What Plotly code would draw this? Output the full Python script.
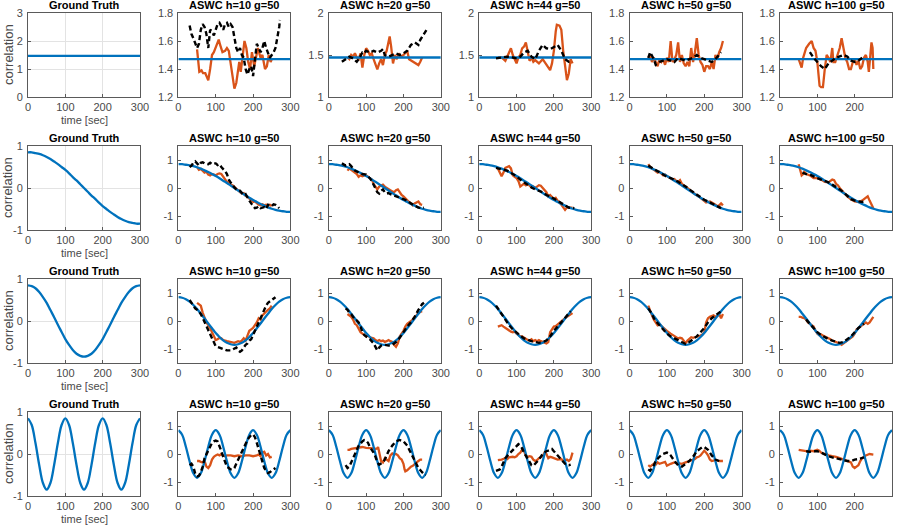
import plotly.graph_objects as go

# ---------------- data ----------------
panel_titles = ["Ground Truth", "ASWC h=10 g=50", "ASWC h=20 g=50",
                "ASWC h=44 g=50", "ASWC h=50 g=50", "ASWC h=100 g=50"]
x_ticks = [0, 100, 200, 300]

gt_t = [0, 10, 20, 30, 40, 50, 60, 70, 80, 90, 100, 110, 120, 130, 140, 150,
        160, 170, 180, 190, 200, 210, 220, 230, 240, 250, 260, 270, 280, 290, 300]
gt_row1_t = [0, 300]
gt_row1 = [1.47, 1.47]
gt_row2 = [.85, .85, .83, .81, .78, .74, .69, .63, .57, .50, .43, .35, .26, .18, .09, 0,
           -.09, -.18, -.26, -.35, -.43, -.50, -.57, -.63, -.69, -.74, -.78, -.81, -.83, -.85, -.85]
gt_row3 = [.85, .83, .78, .69, .57, .43, .26, .09, -.09, -.26, -.43, -.57, -.69, -.78, -.83, -.85,
           -.83, -.78, -.69, -.57, -.43, -.26, -.09, .09, .26, .43, .57, .69, .78, .83, .85]
gt_row4 = [.85, .69, .26, -.26, -.69, -.85, -.69, -.26, .26, .69,
           .85, .69, .26, -.26, -.69, -.85, -.69, -.26, .26, .69,
           .85, .69, .26, -.26, -.69, -.85, -.69, -.26, .26, .69, .85]

# ---- row 1 (constant) ----
orange_r1_h10 = [(50,1.54),(53,1.45),(56,1.38),(62,1.39),(66,1.37),(72,1.37),(76,1.35),(80,1.32),(85,1.40),(90,1.50),(95,1.52),(100,1.56),(105,1.60),(108,1.61),(112,1.57),(118,1.52),(125,1.53),(130,1.55),(135,1.53),(140,1.45),(145,1.36),(150,1.26),(155,1.30),(160,1.40),(163,1.45),(167,1.38),(172,1.50),(177,1.60),(182,1.55),(187,1.45),(192,1.40),(197,1.52),(203,1.42),(208,1.50),(213,1.55),(220,1.48),(225,1.50),(232,1.40),(237,1.42),(242,1.50),(247,1.45),(250,1.47)]
black_r1_h10 = [(30,1.71),(35,1.65),(40,1.62),(45,1.58),(50,1.55),(55,1.58),(60,1.68),(65,1.72),(70,1.70),(75,1.65),(80,1.55),(85,1.68),(90,1.67),(95,1.64),(100,1.68),(105,1.72),(110,1.73),(115,1.70),(120,1.68),(125,1.72),(130,1.73),(135,1.70),(140,1.72),(145,1.70),(150,1.62),(155,1.55),(160,1.52),(165,1.55),(170,1.50),(175,1.48),(180,1.40),(185,1.36),(190,1.40),(195,1.42),(200,1.35),(205,1.45),(210,1.58),(215,1.55),(220,1.52),(225,1.55),(230,1.60),(235,1.55),(240,1.52),(245,1.48),(250,1.50),(255,1.52),(260,1.55),(265,1.62),(270,1.70),(272,1.75)]
orange_r1_h20 = [(50,1.47),(55,1.45),(60,1.50),(65,1.48),(70,1.52),(75,1.47),(80,1.45),(85,1.52),(90,1.35),(95,1.50),(100,1.58),(105,1.55),(110,1.50),(115,1.52),(120,1.45),(125,1.40),(130,1.33),(135,1.40),(140,1.45),(145,1.38),(150,1.50),(155,1.55),(160,1.65),(163,1.72),(167,1.60),(172,1.40),(177,1.50),(182,1.45),(187,1.52),(192,1.48),(200,1.50),(205,1.52),(210,1.55),(215,1.45),(225,1.42),(235,1.40),(240,1.38),(245,1.42),(250,1.47)]
black_r1_h20 = [(35,1.42),(45,1.45),(55,1.48),(65,1.46),(70,1.44),(75,1.42),(80,1.45),(85,1.50),(90,1.53),(95,1.52),(100,1.55),(110,1.53),(120,1.55),(130,1.53),(140,1.55),(145,1.57),(150,1.50),(160,1.48),(170,1.50),(180,1.52),(190,1.50),(200,1.52),(210,1.55),(220,1.62),(230,1.65),(240,1.62),(245,1.68),(255,1.75),(262,1.80)]
orange_r1_h44 = [(50,1.47),(60,1.47),(70,1.43),(80,1.52),(85,1.58),(90,1.50),(95,1.45),(100,1.40),(105,1.47),(110,1.50),(115,1.58),(120,1.60),(125,1.65),(130,1.55),(135,1.43),(140,1.47),(145,1.42),(150,1.44),(160,1.40),(170,1.45),(180,1.38),(190,1.32),(195,1.40),(200,1.55),(205,1.78),(208,1.86),(215,1.85),(220,1.80),(225,1.55),(230,1.35),(235,1.20),(240,1.28),(245,1.45),(250,1.40)]
black_r1_h44 = [(45,1.46),(60,1.47),(75,1.48),(90,1.47),(100,1.46),(110,1.48),(120,1.53),(130,1.55),(140,1.48),(150,1.45),(160,1.55),(170,1.62),(180,1.58),(190,1.57),(200,1.60),(210,1.62),(220,1.55),(230,1.45),(240,1.42),(250,1.42)]
orange_r1_h50 = [(50,1.48),(55,1.50),(60,1.45),(65,1.48),(70,1.45),(75,1.42),(80,1.47),(85,1.45),(90,1.47),(95,1.43),(100,1.48),(105,1.45),(110,1.60),(115,1.45),(120,1.47),(125,1.50),(130,1.59),(135,1.45),(140,1.50),(145,1.44),(150,1.42),(155,1.45),(160,1.42),(165,1.55),(170,1.45),(175,1.52),(180,1.62),(185,1.50),(190,1.45),(195,1.43),(200,1.38),(205,1.42),(210,1.42),(215,1.40),(220,1.45),(225,1.40),(230,1.50),(235,1.47),(240,1.52),(245,1.55),(250,1.60)]
black_r1_h50 = [(50,1.48),(55,1.52),(65,1.47),(70,1.43),(80,1.45),(90,1.46),(100,1.47),(110,1.46),(120,1.45),(130,1.48),(140,1.47),(150,1.46),(160,1.47),(170,1.48),(180,1.50),(190,1.48),(200,1.47),(210,1.46),(220,1.45),(230,1.47),(240,1.50),(245,1.52)]
orange_r1_h100 = [(50,1.47),(55,1.43),(58,1.41),(62,1.48),(70,1.55),(78,1.58),(85,1.60),(90,1.55),(95,1.53),(100,1.45),(103,1.35),(106,1.28),(110,1.27),(115,1.27),(120,1.40),(125,1.50),(130,1.48),(135,1.45),(140,1.55),(143,1.45),(148,1.45),(155,1.50),(160,1.55),(165,1.62),(170,1.55),(175,1.48),(180,1.45),(185,1.40),(190,1.40),(195,1.45),(200,1.47),(205,1.43),(210,1.46),(215,1.40),(220,1.42),(225,1.48),(230,1.50),(235,1.45),(238,1.38),(242,1.48),(245,1.59),(248,1.55),(250,1.40)]
black_r1_h100 = [(80,1.52),(90,1.48),(100,1.45),(110,1.42),(120,1.40),(130,1.44),(140,1.46),(150,1.48),(160,1.49),(170,1.50),(180,1.49),(190,1.46),(200,1.45),(210,1.46),(220,1.48)]

# ---- row 2 (half cosine) ----
orange_r2_h10 = [(50,0.75),(55,0.65),(60,0.68),(65,0.60),(70,0.55),(75,0.58),(80,0.48),(85,0.45),(90,0.50),(95,0.48),(100,0.45),(105,0.50),(110,0.52),(115,0.50),(120,0.40),(125,0.30),(130,0.22),(135,0.20),(140,0.12),(145,0.10),(150,0.05),(155,-0.02),(160,-0.08),(165,-0.15),(170,-0.20),(175,-0.18),(180,-0.28),(185,-0.32),(190,-0.38),(195,-0.45),(200,-0.50),(205,-0.48),(210,-0.55),(215,-0.60),(220,-0.62),(225,-0.58),(230,-0.62),(235,-0.60),(240,-0.62),(245,-0.60),(250,-0.65)]
black_r2_h10 = [(30,0.75),(35,0.80),(40,0.90),(45,0.95),(50,0.88),(55,0.80),(60,0.90),(65,0.92),(70,0.88),(80,0.85),(85,0.90),(90,0.85),(95,0.88),(100,0.88),(105,0.82),(110,0.85),(115,0.75),(120,0.68),(125,0.60),(130,0.50),(135,0.30),(140,0.20),(145,0.10),(150,0.02),(155,-0.05),(160,-0.10),(165,-0.10),(170,-0.18),(175,-0.25),(180,-0.22),(185,-0.35),(190,-0.45),(195,-0.55),(200,-0.65),(205,-0.72),(210,-0.70),(215,-0.65),(220,-0.72),(225,-0.70),(230,-0.68),(235,-0.75),(240,-0.60),(245,-0.62),(250,-0.65),(255,-0.58),(260,-0.60),(265,-0.65),(270,-0.72)]
orange_r2_h20 = [(50,0.62),(55,0.70),(60,0.65),(65,0.60),(70,0.55),(75,0.50),(80,0.40),(85,0.45),(90,0.42),(95,0.45),(100,0.45),(105,0.40),(110,0.38),(115,0.30),(120,0.15),(125,0.05),(130,-0.05),(135,0.05),(140,0.10),(145,0.12),(150,0.05),(155,0.00),(160,-0.02),(165,-0.10),(170,-0.12),(175,-0.15),(180,-0.08),(185,-0.05),(190,-0.15),(195,-0.25),(200,-0.30),(205,-0.38),(210,-0.45),(215,-0.50),(220,-0.55),(225,-0.62),(230,-0.55),(235,-0.52),(240,-0.48),(245,-0.58),(250,-0.60)]
black_r2_h20 = [(35,0.88),(40,0.85),(45,0.80),(50,0.82),(55,0.85),(60,0.78),(65,0.70),(70,0.62),(80,0.55),(90,0.50),(100,0.48),(105,0.42),(110,0.35),(115,0.25),(120,0.10),(125,-0.05),(130,-0.15),(135,-0.20),(140,-0.10),(145,-0.05),(150,-0.15),(155,-0.20),(160,-0.18),(165,-0.22),(170,-0.25),(180,-0.30),(190,-0.35),(200,-0.40),(210,-0.45),(220,-0.55),(230,-0.62),(240,-0.70),(250,-0.72),(255,-0.70)]
orange_r2_h44 = [(50,0.70),(55,0.55),(60,0.42),(65,0.55),(70,0.72),(75,0.75),(80,0.78),(85,0.70),(90,0.45),(95,0.40),(100,0.35),(105,0.25),(110,0.05),(115,0.10),(120,0.15),(125,0.10),(130,0.15),(135,0.08),(140,0.02),(145,0.05),(150,0.00),(155,0.05),(160,0.10),(165,0.08),(170,0.00),(175,-0.10),(180,-0.15),(185,-0.30),(190,-0.25),(195,-0.32),(200,-0.40),(205,-0.35),(210,-0.45),(215,-0.50),(220,-0.60),(225,-0.70),(230,-0.78),(235,-0.70),(240,-0.70),(245,-0.72),(250,-0.70)]
black_r2_h44 = [(45,0.72),(60,0.68),(75,0.62),(90,0.50),(100,0.42),(110,0.30),(120,0.20),(130,0.10),(140,0.02),(150,-0.05),(160,-0.10),(170,-0.15),(180,-0.25),(190,-0.30),(200,-0.38),(210,-0.45),(220,-0.55),(230,-0.62),(240,-0.70),(250,-0.72),(255,-0.72)]
orange_r2_h50 = [(50,0.85),(55,0.75),(60,0.70),(65,0.65),(70,0.60),(75,0.55),(80,0.58),(85,0.50),(90,0.45),(95,0.48),(100,0.42),(105,0.38),(110,0.35),(115,0.30),(120,0.32),(125,0.25),(130,0.22),(135,0.28),(140,0.15),(145,0.10),(150,0.05),(155,0.02),(160,-0.05),(165,-0.12),(170,-0.15),(175,-0.22),(180,-0.25),(185,-0.30),(190,-0.35),(195,-0.40),(200,-0.48),(205,-0.52),(210,-0.50),(215,-0.48),(220,-0.52),(225,-0.55),(230,-0.60),(235,-0.65),(240,-0.62),(245,-0.55),(250,-0.62)]
black_r2_h50 = [(50,0.80),(60,0.72),(70,0.62),(80,0.55),(90,0.48),(100,0.40),(110,0.35),(120,0.30),(130,0.22),(140,0.15),(150,0.05),(160,-0.05),(170,-0.15),(180,-0.25),(190,-0.35),(200,-0.42),(210,-0.48),(220,-0.55),(230,-0.62),(240,-0.68),(245,-0.72)]
orange_r2_h100 = [(50,0.85),(55,0.65),(58,0.45),(62,0.50),(65,0.58),(70,0.50),(80,0.45),(90,0.35),(100,0.35),(110,0.30),(120,0.22),(130,0.20),(135,0.25),(140,0.30),(145,0.28),(150,0.15),(155,0.10),(160,0.00),(170,-0.15),(180,-0.30),(190,-0.40),(200,-0.48),(210,-0.50),(215,-0.48),(220,-0.45),(225,-0.40),(230,-0.35),(235,-0.30),(240,-0.45),(245,-0.60),(250,-0.72)]
black_r2_h100 = [(60,0.55),(70,0.50),(80,0.48),(90,0.40),(100,0.35),(110,0.30),(120,0.25),(130,0.20),(140,0.12),(150,0.05),(160,-0.05),(170,-0.15),(180,-0.28),(190,-0.40),(200,-0.45),(210,-0.48),(220,-0.50),(225,-0.48)]

# ---- row 3 (full cosine) ----
orange_r3_h10 = [(50,0.65),(55,0.60),(60,0.55),(65,0.30),(70,0.10),(75,-0.05),(80,-0.15),(85,-0.25),(90,-0.40),(95,-0.55),(100,-0.68),(105,-0.65),(110,-0.60),(115,-0.62),(120,-0.68),(130,-0.72),(140,-0.75),(150,-0.78),(160,-0.72),(165,-0.75),(170,-0.70),(175,-0.62),(180,-0.70),(185,-0.55),(190,-0.35),(195,-0.30),(200,-0.25),(205,-0.15),(210,-0.05),(215,0.10),(220,0.05),(225,0.20),(230,0.28),(235,0.32),(240,0.40),(245,0.45),(250,0.55)]
black_r3_h10 = [(30,0.75),(35,0.65),(40,0.55),(45,0.45),(50,0.40),(55,0.35),(60,0.25),(65,0.10),(70,-0.05),(75,-0.20),(80,-0.35),(85,-0.50),(90,-0.65),(95,-0.80),(100,-0.90),(110,-0.95),(120,-1.00),(130,-1.05),(140,-1.05),(150,-1.00),(155,-0.95),(160,-1.05),(165,-1.10),(170,-1.05),(175,-0.95),(180,-0.85),(185,-0.80),(190,-0.70),(195,-0.65),(200,-0.50),(205,-0.35),(210,-0.15),(215,0.00),(220,0.15),(225,0.30),(230,0.45),(235,0.55),(240,0.65),(245,0.70),(250,0.72),(255,0.80),(260,0.85)]
orange_r3_h20 = [(50,0.25),(55,0.20),(60,0.15),(65,0.05),(70,-0.10),(75,-0.15),(80,-0.30),(85,-0.40),(90,-0.45),(95,-0.50),(100,-0.55),(105,-0.52),(110,-0.58),(115,-0.60),(120,-0.62),(125,-0.68),(130,-0.72),(135,-0.68),(140,-0.72),(145,-0.70),(150,-0.75),(155,-0.72),(160,-0.68),(165,-0.72),(170,-0.75),(175,-0.85),(180,-0.92),(185,-0.80),(190,-0.55),(195,-0.45),(200,-0.35),(205,-0.20),(210,-0.10),(215,-0.05),(220,0.00),(225,0.05),(230,0.15),(235,0.20),(240,0.30),(245,0.32),(250,0.35)]
black_r3_h20 = [(45,0.45),(50,0.40),(55,0.30),(60,0.25),(65,0.15),(70,0.05),(75,0.02),(80,-0.05),(85,-0.20),(90,-0.40),(95,-0.50),(100,-0.55),(110,-0.65),(120,-0.80),(125,-0.95),(130,-1.05),(135,-0.95),(140,-0.88),(150,-0.85),(160,-0.88),(170,-0.85),(175,-0.80),(180,-0.75),(190,-0.60),(200,-0.40),(210,-0.20),(220,-0.05),(230,0.15),(240,0.40),(250,0.60),(255,0.65)]
orange_r3_h44 = [(50,-0.20),(55,-0.18),(60,-0.15),(65,-0.20),(70,-0.25),(75,-0.30),(80,-0.32),(85,-0.38),(90,-0.40),(95,-0.38),(100,-0.45),(105,-0.50),(110,-0.55),(115,-0.55),(120,-0.60),(125,-0.62),(130,-0.68),(135,-0.70),(140,-0.65),(145,-0.72),(150,-0.68),(155,-0.72),(160,-0.68),(165,-0.72),(170,-0.75),(175,-0.78),(180,-0.80),(185,-0.75),(190,-0.40),(195,-0.30),(200,-0.20),(205,-0.18),(210,-0.12),(215,-0.05),(220,-0.02),(225,0.05),(230,0.10),(235,0.15),(240,0.20),(245,0.22),(250,0.28)]
black_r3_h44 = [(45,0.55),(50,0.45),(55,0.35),(60,0.25),(65,0.15),(70,0.05),(75,-0.05),(80,-0.15),(90,-0.30),(100,-0.42),(110,-0.52),(120,-0.62),(130,-0.68),(140,-0.72),(150,-0.75),(160,-0.78),(170,-0.75),(180,-0.70),(190,-0.55),(200,-0.35),(210,-0.20),(220,-0.05),(230,0.10),(240,0.25),(245,0.35)]
orange_r3_h50 = [(50,0.55),(55,0.35),(60,0.20),(65,0.05),(70,-0.05),(75,-0.15),(80,-0.12),(85,-0.18),(90,-0.25),(95,-0.30),(100,-0.35),(110,-0.45),(120,-0.55),(130,-0.62),(135,-0.60),(140,-0.62),(145,-0.70),(150,-0.80),(155,-0.70),(160,-0.62),(165,-0.58),(170,-0.60),(175,-0.58),(180,-0.55),(185,-0.55),(190,-0.52),(195,-0.48),(200,-0.40),(205,-0.05),(210,0.10),(215,0.15),(220,0.18),(225,0.20),(230,0.15),(235,0.18),(240,0.25),(245,0.10),(250,0.25)]
black_r3_h50 = [(50,0.45),(55,0.35),(60,0.25),(65,0.10),(70,0.00),(80,-0.15),(90,-0.30),(100,-0.45),(110,-0.55),(120,-0.62),(130,-0.70),(140,-0.75),(150,-0.82),(160,-0.75),(170,-0.65),(180,-0.55),(190,-0.40),(200,-0.25),(210,-0.05),(220,0.10),(230,0.20),(240,0.30),(245,0.35)]
orange_r3_h100 = [(50,0.15),(55,0.15),(60,0.12),(65,0.10),(70,0.05),(75,-0.05),(80,-0.10),(85,-0.15),(90,-0.20),(95,-0.35),(100,-0.45),(105,-0.50),(110,-0.48),(115,-0.52),(120,-0.55),(125,-0.58),(130,-0.60),(135,-0.65),(140,-0.70),(145,-0.72),(150,-0.75),(155,-0.78),(160,-0.80),(165,-0.85),(170,-0.80),(175,-0.75),(180,-0.70),(185,-0.68),(190,-0.62),(195,-0.55),(200,-0.45),(205,-0.30),(210,-0.25),(215,-0.20),(220,-0.15),(225,-0.10),(230,-0.05),(235,-0.10),(240,-0.05),(245,0.05),(250,0.15)]
black_r3_h100 = [(70,0.05),(80,-0.10),(90,-0.25),(100,-0.40),(110,-0.50),(120,-0.58),(130,-0.65),(140,-0.70),(150,-0.75),(160,-0.78),(170,-0.75),(180,-0.65),(190,-0.55),(200,-0.40),(210,-0.25),(220,-0.15),(225,-0.10)]

# ---- row 4 (fast cosine) ----
orange_r4_h10 = [(50,-0.25),(55,-0.25),(60,-0.28),(65,-0.30),(70,-0.25),(75,-0.45),(80,-0.50),(85,-0.40),(90,-0.20),(95,-0.10),(100,-0.05),(105,-0.02),(110,-0.05),(115,0.00),(120,-0.05),(125,-0.08),(130,-0.05),(140,-0.05),(150,-0.08),(160,-0.05),(170,-0.08),(180,-0.05),(190,-0.05),(200,-0.08),(210,-0.05),(215,-0.02),(220,-0.08),(225,0.05),(230,0.08),(235,-0.05),(240,0.00),(245,-0.12),(250,-0.10)]
black_r4_h10 = [(30,-0.40),(35,-0.35),(40,-0.45),(45,-0.70),(50,-0.80),(55,-0.78),(60,-0.65),(65,-0.45),(70,-0.15),(75,0.00),(80,0.15),(85,0.30),(90,0.40),(95,0.45),(100,0.48),(105,0.45),(110,0.30),(115,0.10),(120,-0.10),(125,-0.30),(130,-0.45),(135,-0.50),(140,-0.55),(145,-0.55),(150,-0.50),(155,-0.35),(160,-0.20),(165,-0.05),(170,0.10),(175,0.25),(180,0.40),(185,0.50),(190,0.60),(195,0.68),(200,0.70),(205,0.60),(210,0.40),(215,0.15),(220,-0.10),(225,-0.30),(230,-0.50),(235,-0.60),(240,-0.68),(245,-0.65),(250,-0.60),(255,-0.55),(260,-0.50)]
orange_r4_h20 = [(50,0.15),(55,0.15),(60,0.18),(70,0.20),(80,0.22),(90,0.25),(100,0.22),(110,0.22),(120,0.20),(125,0.18),(130,0.20),(132,0.25),(135,0.10),(138,-0.15),(140,-0.25),(145,-0.30),(150,-0.15),(155,-0.20),(160,-0.25),(165,-0.05),(170,0.02),(175,-0.02),(180,0.00),(185,-0.05),(190,-0.15),(195,-0.20),(200,-0.35),(203,-0.55),(205,-0.62),(210,-0.58),(215,-0.50),(220,-0.45),(225,-0.42),(230,-0.35),(235,-0.30),(240,-0.25),(245,-0.20),(250,-0.20)]
black_r4_h20 = [(45,-0.40),(50,-0.50),(55,-0.45),(60,-0.30),(65,-0.10),(70,0.05),(75,0.15),(80,0.30),(90,0.45),(95,0.50),(100,0.48),(105,0.40),(110,0.25),(115,0.15),(120,0.05),(125,-0.10),(130,-0.30),(135,-0.38),(140,-0.35),(145,-0.30),(150,-0.20),(155,-0.05),(160,0.10),(170,0.30),(180,0.45),(190,0.50),(200,0.45),(210,0.30),(220,0.05),(230,-0.25),(240,-0.50),(250,-0.65),(255,-0.72),(260,-0.75)]
orange_r4_h44 = [(50,-0.22),(60,-0.20),(70,-0.15),(75,-0.18),(80,-0.12),(90,-0.10),(95,-0.12),(100,-0.08),(105,0.00),(110,0.05),(115,0.15),(118,0.20),(120,0.10),(125,-0.05),(130,-0.10),(135,-0.08),(140,-0.10),(145,-0.20),(150,-0.25),(155,-0.22),(160,-0.15),(165,-0.10),(170,-0.08),(175,0.05),(180,0.00),(185,-0.15),(190,-0.10),(195,-0.12),(200,-0.15),(210,-0.20),(220,-0.18),(225,-0.25),(230,-0.22),(235,-0.20),(240,-0.25),(245,-0.18),(250,0.05)]
black_r4_h44 = [(45,-0.60),(50,-0.58),(55,-0.55),(60,-0.45),(65,-0.30),(70,-0.15),(80,0.00),(90,0.15),(100,0.30),(105,0.35),(110,0.30),(115,0.20),(120,0.05),(130,-0.20),(140,-0.40),(145,-0.42),(150,-0.35),(160,-0.20),(170,0.00),(180,0.10),(190,0.15),(195,0.18),(200,0.10),(210,-0.05),(220,-0.20),(230,-0.35),(240,-0.40),(245,-0.38)]
orange_r4_h50 = [(50,-0.40),(55,-0.45),(60,-0.40),(65,-0.35),(70,-0.38),(75,-0.30),(80,-0.35),(85,-0.32),(90,-0.30),(95,-0.28),(100,-0.42),(105,-0.38),(110,-0.35),(120,-0.30),(130,-0.32),(140,-0.35),(150,-0.30),(160,-0.25),(170,-0.22),(175,-0.18),(180,-0.12),(185,-0.10),(190,-0.05),(195,0.05),(200,0.12),(205,0.05),(210,-0.05),(215,-0.20),(220,-0.25),(230,-0.22),(240,-0.25),(250,-0.25)]
black_r4_h50 = [(50,-0.55),(55,-0.60),(60,-0.50),(65,-0.40),(70,-0.25),(80,-0.10),(90,0.00),(100,0.05),(105,0.02),(110,-0.05),(120,-0.25),(130,-0.40),(140,-0.45),(145,-0.40),(150,-0.35),(160,-0.25),(170,-0.10),(180,0.10),(190,0.20),(195,0.25),(200,0.25),(210,0.15),(220,-0.05),(230,-0.20),(240,-0.25)]
orange_r4_h100 = [(50,0.15),(60,0.12),(70,0.10),(80,0.12),(90,0.10),(100,0.15),(105,0.12),(110,0.05),(115,0.02),(120,0.00),(125,0.00),(130,-0.05),(140,-0.08),(150,-0.10),(160,-0.15),(170,-0.20),(180,-0.25),(190,-0.30),(195,-0.45),(200,-0.50),(205,-0.45),(210,-0.40),(215,-0.25),(220,-0.15),(225,-0.10),(230,-0.05),(240,0.00),(250,-0.02)]
black_r4_h100 = [(70,0.10),(80,0.08),(90,0.10),(100,0.10),(110,0.05),(120,-0.02),(130,-0.08),(140,-0.12),(150,-0.15),(160,-0.18),(170,-0.22),(180,-0.25),(190,-0.25),(200,-0.20),(210,-0.18),(220,-0.15),(225,-0.12)]

# y axis ticks per panel
gt_y_ticks_row1 = [0, 1, 2, 3]
gt_y_ticks = [-1, 0, 1]
r1_ticks_a = [1.2, 1.4, 1.6, 1.8]
r1_ticks_b = [1, 1.5, 2]

# ---------------- assembly ----------------
W, H = 900, 527
col_left = [28, 178.4, 328.8, 479.2, 629.6, 780]
col_w = 112
row_top = [13, 146, 279, 412]
row_h = 84

BLUE = "#0072BD"
ORANGE = "#D95319"
FONT = "Liberation Sans, Arial, Helvetica, sans-serif"
TICKC = "#4a4a4a"

gt_rows = [(gt_row1_t, gt_row1), (gt_t, gt_row2), (gt_t, gt_row3), (gt_t, gt_row4)]
est_rows = [
    [(orange_r1_h10, black_r1_h10), (orange_r1_h20, black_r1_h20), (orange_r1_h44, black_r1_h44),
     (orange_r1_h50, black_r1_h50), (orange_r1_h100, black_r1_h100)],
    [(orange_r2_h10, black_r2_h10), (orange_r2_h20, black_r2_h20), (orange_r2_h44, black_r2_h44),
     (orange_r2_h50, black_r2_h50), (orange_r2_h100, black_r2_h100)],
    [(orange_r3_h10, black_r3_h10), (orange_r3_h20, black_r3_h20), (orange_r3_h44, black_r3_h44),
     (orange_r3_h50, black_r3_h50), (orange_r3_h100, black_r3_h100)],
    [(orange_r4_h10, black_r4_h10), (orange_r4_h20, black_r4_h20), (orange_r4_h44, black_r4_h44),
     (orange_r4_h50, black_r4_h50), (orange_r4_h100, black_r4_h100)],
]
row1_ranges = [[0, 3], [1.2, 1.8], [1, 2], [1, 2], [1.2, 1.8], [1.2, 1.8]]
row1_ticks = [gt_y_ticks_row1, r1_ticks_a, r1_ticks_b, r1_ticks_b, r1_ticks_a, r1_ticks_a]


def fmt(v):
    return "%g" % v


fig = go.Figure()
layout = dict(width=W, height=H, margin=dict(l=0, r=0, t=0, b=0, pad=0),
              paper_bgcolor="white", plot_bgcolor="white", showlegend=False,
              font=dict(family=FONT, size=11, color=TICKC))
annotations = []

n = 0
for r in range(4):
    for c in range(6):
        n += 1
        xa = "x" if n == 1 else "x%d" % n
        ya = "y" if n == 1 else "y%d" % n
        xkey = "xaxis" if n == 1 else "xaxis%d" % n
        ykey = "yaxis" if n == 1 else "yaxis%d" % n
        x0 = col_left[c] / W
        x1 = (col_left[c] + col_w) / W
        y1 = 1 - row_top[r] / H
        y0 = 1 - (row_top[r] + row_h) / H
        is_gt = (c == 0)
        if r == 0:
            yr = row1_ranges[c]
            yt = row1_ticks[c]
        else:
            yr = [-1, 1] if is_gt else [-1.5, 1.5]
            yt = gt_y_ticks
        common = dict(showline=True, linecolor="#5a5a5a", linewidth=1, mirror=True,
                      ticks="inside", ticklen=3, tickwidth=1, tickcolor="#5a5a5a",
                      zeroline=False, showgrid=is_gt, gridcolor="#e3e3e3", gridwidth=1,
                      automargin=False,
                      tickfont=dict(family=FONT, size=11, color=TICKC), fixedrange=True)
        layout[xkey] = dict(domain=[x0, x1], anchor=ya, range=[0, 300], ticklabelstandoff=0,
                            tickvals=x_ticks, ticktext=[fmt(v) for v in x_ticks], **common)
        layout[ykey] = dict(domain=[y0, y1], anchor=xa, range=yr, ticklabelstandoff=2,
                            tickvals=yt, ticktext=[fmt(v) for v in yt], **common)

        gx, gy = gt_rows[r]
        shape = "linear" if r == 0 else "spline"
        if not is_gt:
            orange, black = est_rows[r][c - 1]
            fig.add_trace(go.Scatter(x=[p[0] for p in orange], y=[p[1] for p in orange],
                                     mode="lines", line=dict(color=ORANGE, width=2.3),
                                     xaxis=xa, yaxis=ya, hoverinfo="skip"))
        fig.add_trace(go.Scatter(x=gx, y=gy, mode="lines",
                                 line=dict(color=BLUE, width=2.3, shape=shape),
                                 xaxis=xa, yaxis=ya, hoverinfo="skip"))
        if not is_gt:
            fig.add_trace(go.Scatter(x=[p[0] for p in black], y=[p[1] for p in black],
                                     mode="lines", line=dict(color="black", width=2.4, dash="5px,3px"),
                                     xaxis=xa, yaxis=ya, hoverinfo="skip"))

        # panel title
        annotations.append(dict(text="<b>%s</b>" % panel_titles[c], xref="paper", yref="paper",
                                x=(col_left[c] + col_w / 2) / W, y=1 - (row_top[r] - 8.5) / H,
                                xanchor="center", yanchor="middle", showarrow=False,
                                font=dict(family=FONT, size=11, color="black")))
        if is_gt:
            annotations.append(dict(text="correlation", xref="paper", yref="paper",
                                    x=8 / W, y=1 - (row_top[r] + row_h / 2) / H,
                                    xanchor="center", yanchor="middle", textangle=-90,
                                    showarrow=False, font=dict(family=FONT, size=13, color=TICKC)))
            annotations.append(dict(text="time [sec]", xref="paper", yref="paper",
                                    x=(col_left[c] + col_w / 2) / W,
                                    y=1 - (row_top[r] + row_h + 23) / H,
                                    xanchor="center", yanchor="middle",
                                    showarrow=False, font=dict(family=FONT, size=11, color=TICKC)))

layout["annotations"] = annotations
fig.update_layout(**layout)
fig.write_html("out.html", config={"responsive": False, "displayModeBar": False},
               post_script="document.body.style.margin='0';document.body.style.overflow='hidden';")
